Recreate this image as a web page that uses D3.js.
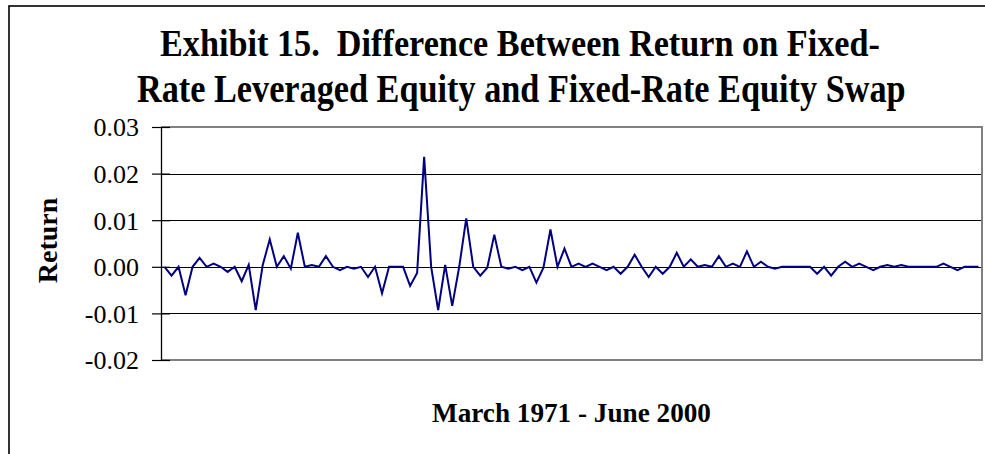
<!DOCTYPE html>
<html>
<head>
<meta charset="utf-8">
<script src="https://cdn.jsdelivr.net/npm/d3@7"></script>
<style>
  html, body { margin: 0; padding: 0; background: #fff; }
  svg { display: block; }
</style>
</head>
<body>
<svg id="chart" width="985" height="454"></svg>
<script>
// ---- data ----
const titleLines = ["Exhibit 15.  Difference Between Return on Fixed-", "Rate Leveraged Equity and Fixed-Rate Equity Swap"];
const xAxisLabel = "March 1971 - June 2000";
const yAxisLabel = "Return";
const yTicks = [-0.02, -0.01, 0.00, 0.01, 0.02, 0.03];
const yTickLabels = ["-0.02", "-0.01", "0.00", "0.01", "0.02", "0.03"];
const returnsDiff = [
  0, -0.0019, 0, -0.0061, 0, 0.0019, 0, 0.0007, 0, -0.0011,
  0, -0.0031, 0.0004, -0.0093, 0.0004, 0.0059, 0, 0.0023, -0.0004, 0.0073,
  0, 0.0004, 0, 0.0023, 0, -0.0007, 0, -0.0004, 0, -0.0022,
  0, -0.0057, 0, 0, 0, -0.0041, -0.0013, 0.0236, 0, -0.0093,
  0.0004, -0.0084, 0, 0.0104, 0, -0.0019, -0.0002, 0.0069, 0, -0.0004,
  0, -0.0007, 0, -0.0034, -0.0002, 0.0080, 0, 0.0039, 0, 0.0007,
  0, 0.0007, 0, -0.0007, 0, -0.0015, 0, 0.0026, 0, -0.0022,
  0, -0.0015, 0, 0.0030, 0, 0.0016, 0, 0.0004, 0, 0.0023,
  0, 0.0007, 0, 0.0033, 0, 0.0011, 0, -0.0004, 0, 0,
  0, 0, 0, -0.0015, 0, -0.0019, 0, 0.0011, 0, 0.0007,
  0, -0.0007, 0, 0.0004, 0, 0.0004, 0, 0, 0, 0,
  0, 0.0007, 0, -0.0007, 0, 0, 0
];
const periods = returnsDiff.map((d, i) => i);

// ---- layout ----
const svg = d3.select("#chart");
const plot = { left: 161, right: 982, top: 127, bottom: 360 };
const serif = "'Liberation Serif', 'Times New Roman', Times, serif";

// outer chart border
svg.append("rect")
  .attr("x", 9).attr("y", 6).attr("width", 1100).attr("height", 600)
  .attr("fill", "none").attr("stroke", "#000").attr("stroke-width", 1.6);

const x = d3.scalePoint().domain(periods).range([plot.left, plot.right]).padding(0.5);
const y = d3.scaleLinear().domain([-0.02, 0.03]).range([plot.bottom, plot.top]);

// gridlines
svg.append("g")
  .selectAll("line")
  .data(yTicks.filter(t => t > -0.02 && t < 0.03))
  .join("line")
  .attr("x1", plot.left).attr("x2", plot.right)
  .attr("y1", d => Math.round(y(d)) + 0.5).attr("y2", d => Math.round(y(d)) + 0.5)
  .attr("stroke", "#000").attr("stroke-width", 1);

// plot border (gray top/right/bottom)
svg.append("path")
  .attr("d", `M${plot.left},${plot.top}H${plot.right}V${plot.bottom}H${plot.left}`)
  .attr("fill", "none").attr("stroke", "#808080").attr("stroke-width", 2);

// y axis
const yAxis = d3.axisLeft(y)
  .tickValues(yTicks)
  .tickFormat((d, i) => yTickLabels[i])
  .tickSizeInner(9).tickSizeOuter(0).tickPadding(13);
const gy = svg.append("g").attr("transform", `translate(${plot.left},0)`).call(yAxis);
gy.select(".domain").attr("stroke", "#000").attr("stroke-width", 1.3);
gy.selectAll(".tick line").attr("stroke", "#000").attr("stroke-width", 1.2)
  .attr("x1", 9);
gy.selectAll(".tick text")
  .attr("font-family", serif).attr("font-size", 26).attr("fill", "#000")
  .attr("dy", "0.34em");

// line
const line = d3.line().x((d, i) => x(i)).y(d => y(d));
svg.append("path")
  .datum(returnsDiff)
  .attr("d", line)
  .attr("fill", "none").attr("stroke", "#000080").attr("stroke-width", 2)
  .attr("stroke-linejoin", "miter");

// helper: place text horizontally condensed to span [x0, x1] via a scale transform
function fittedText(str, x0, x1, baseline, size) {
  const g = svg.append("g");
  const t = g.append("text")
    .attr("x", 0).attr("y", 0)
    .attr("font-family", serif).attr("font-weight", "bold").attr("font-size", size)
    .attr("fill", "#000")
    .style("white-space", "pre")
    .text(str);
  const w = t.node().getComputedTextLength();
  const k = (x1 - x0) / w;
  g.attr("transform", `translate(${x0},${baseline}) scale(${k},1)`);
  return g;
}

// title
const titleBaselines = [56, 102];
const titleSpans = [[160, 880], [137, 906]];
titleLines.forEach((t, i) => fittedText(t, titleSpans[i][0], titleSpans[i][1], titleBaselines[i], 39));

// x axis label
fittedText(xAxisLabel, 432, 711, 422, 28);

// y axis label
svg.append("text")
  .attr("transform", "translate(57,240.5) rotate(-90)")
  .attr("text-anchor", "middle")
  .attr("font-family", serif).attr("font-weight", "bold").attr("font-size", 28)
  .attr("fill", "#000")
  .text(yAxisLabel);
</script>
</body>
</html>
